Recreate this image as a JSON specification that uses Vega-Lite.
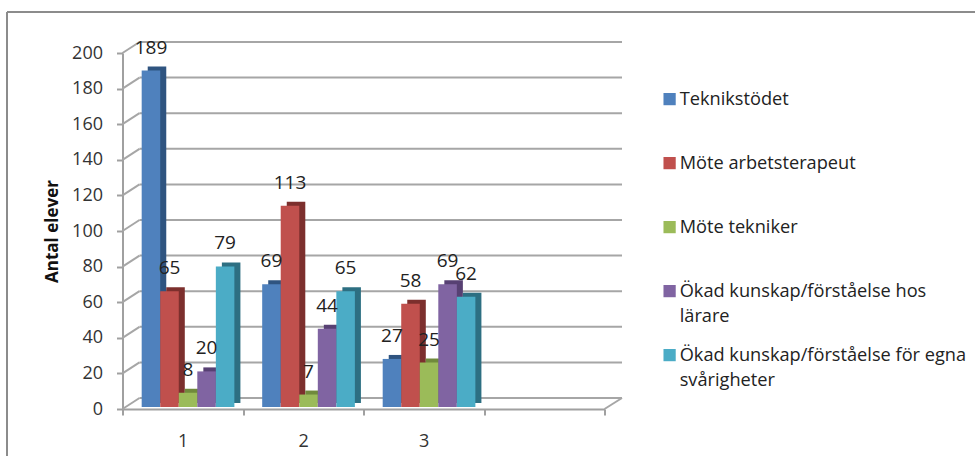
{
"$schema":"https://vega.github.io/schema/vega-lite/v6.json",
"width":482,"height":356,
"autosize":{"type":"none"},
"padding":{"left":122.5,"top":53,"right":370.5,"bottom":47},
"background":"white",
"config":{"view":{"stroke":null},"font":"Open Sans","axis":{"labelOverlap":false},
 "axisY":{"grid":false,"tickCount":11,"titleFont":"Open Sans","titleFontSize":17,"titleFontWeight":"bold","titleColor":"#111","titlePadding":10,"labelFont":"Open Sans","labelFontSize":18,"labelColor":"#333","labelPadding":14,"domainColor":"#a0a0a0","domainWidth":2,"tickColor":"#a0a0a0","tickWidth":2,"tickSize":6}},
"datasets":{
"rows":[
{"grupp":"1","serie":"Teknikstödet","antal":189},
{"grupp":"1","serie":"Möte arbetsterapeut","antal":65},
{"grupp":"1","serie":"Möte tekniker","antal":8},
{"grupp":"1","serie":"Ökad kunskap/förståelse hos lärare","antal":20},
{"grupp":"1","serie":"Ökad kunskap/förståelse för egna svårigheter","antal":79},
{"grupp":"2","serie":"Teknikstödet","antal":69},
{"grupp":"2","serie":"Möte arbetsterapeut","antal":113},
{"grupp":"2","serie":"Möte tekniker","antal":7},
{"grupp":"2","serie":"Ökad kunskap/förståelse hos lärare","antal":44},
{"grupp":"2","serie":"Ökad kunskap/förståelse för egna svårigheter","antal":65},
{"grupp":"3","serie":"Teknikstödet","antal":27},
{"grupp":"3","serie":"Möte arbetsterapeut","antal":58},
{"grupp":"3","serie":"Möte tekniker","antal":25},
{"grupp":"3","serie":"Ökad kunskap/förståelse hos lärare","antal":69},
{"grupp":"3","serie":"Ökad kunskap/förståelse för egna svårigheter","antal":62}
],
"grid":[{"v":0},{"v":20},{"v":40},{"v":60},{"v":80},{"v":100},{"v":120},{"v":140},{"v":160},{"v":180},{"v":200}]
},
"layer":[
{"data":{"name":"grid"},
 "mark":{"type":"rule","color":"#a6a6a6","strokeWidth":2,"yOffset":-11},
 "encoding":{"y":{"field":"v","type":"quantitative","scale":{"domain":[0,200]},
   "axis":{"values":[0,20,40,60,80,100,120,140,160,180,200],"labelOverlap":false,"title":"Antal elever"}},
  "x":{"value":17},"x2":{"value":499.5}}},
{"data":{"name":"grid"},
 "mark":{"type":"rule","color":"#a6a6a6","strokeWidth":2,"y2Offset":-11},
 "encoding":{"y":{"field":"v","type":"quantitative","axis":{"values":[0,20,40,60,80,100,120,140,160,180,200],"labelOverlap":false,"title":"Antal elever"}},"y2":{"field":"v"},"x":{"value":0},"x2":{"value":17}}},
{"data":{"values":[{"v":0}]},
 "mark":{"type":"rule","color":"#a6a6a6","strokeWidth":2,"y2Offset":-11},
 "encoding":{"y":{"field":"v","type":"quantitative","axis":{"values":[0,20,40,60,80,100,120,140,160,180,200],"labelOverlap":false,"title":"Antal elever"}},"y2":{"field":"v"},"x":{"value":482},"x2":{"value":499.5}}},
{"data":{"name":"rows"},
 "mark":{"type":"bar","yOffset":-6,"y2Offset":-6},
 "encoding":{
  "x":{"field":"grupp","type":"nominal","scale":{"domain":["1","2","3"," "],"padding":0},
    "axis":{"title":null,"labelAngle":0,"labelFont":"Open Sans","labelFontSize":18,"labelColor":"#333","labelPadding":17,"domainColor":"#a0a0a0","domainWidth":2,"tickColor":"#a0a0a0","tickWidth":2,"tickSize":6,"tickBand":"extent"}},
  "xOffset":{"field":"serie","type":"nominal","sort":["Teknikstödet","Möte arbetsterapeut","Möte tekniker","Ökad kunskap/förståelse hos lärare","Ökad kunskap/förståelse för egna svårigheter"],"scale":{"paddingOuter":0.75,"paddingInner":0,"align":0.907}},
  "y":{"field":"antal","type":"quantitative","axis":{"values":[0,20,40,60,80,100,120,140,160,180,200],"labelOverlap":false,"title":"Antal elever"}},
  "color":{"field":"serie","type":"nominal","legend":null,"sort":["Teknikstödet","Möte arbetsterapeut","Möte tekniker","Ökad kunskap/förståelse hos lärare","Ökad kunskap/förståelse för egna svårigheter"],"scale":{"range":["#2f5480","#7c2f2d","#708a3c","#574073","#2d6f82"]}}
 }},
{"data":{"name":"rows"},
 "mark":{"type":"bar","yOffset":-2,"y2Offset":-2},
 "encoding":{
  "x":{"field":"grupp","type":"nominal"},
  "xOffset":{"field":"serie","type":"nominal","sort":["Teknikstödet","Möte arbetsterapeut","Möte tekniker","Ökad kunskap/förståelse hos lärare","Ökad kunskap/förståelse för egna svårigheter"],"scale":{"paddingOuter":0.75,"paddingInner":0,"align":0.69}},
  "y":{"field":"antal","type":"quantitative","axis":{"values":[0,20,40,60,80,100,120,140,160,180,200],"labelOverlap":false,"title":"Antal elever"}},
  "color":{"field":"serie","type":"nominal","sort":["Teknikstödet","Möte arbetsterapeut","Möte tekniker","Ökad kunskap/förståelse hos lärare","Ökad kunskap/förståelse för egna svårigheter"],
   "scale":{"range":["#4f81bd","#c0504d","#9bbb59","#8064a2","#4bacc6"]},
   "legend":{"title":null,"orient":"none","legendX":538,"legendY":37,"symbolType":"square","symbolSize":150,"symbolStrokeWidth":0,"symbolOpacity":1,"labelFont":"Open Sans","labelFontSize":18.2,"labelColor":"#222","labelLimit":320,"labelOffset":1,"labelBaseline":"alphabetic","gridAlign":"all","rowPadding":20,
    "labelExpr":"datum.label == 'Ökad kunskap/förståelse hos lärare' ? ['Ökad kunskap/förståelse hos','lärare'] : datum.label == 'Ökad kunskap/förståelse för egna svårigheter' ? ['Ökad kunskap/förståelse för egna','svårigheter'] : datum.label",
    "encoding":{"labels":{"dy":{"value":6},"lineHeight":{"value":25}}}}}
 }},
{"data":{"name":"rows"},
 "mark":{"type":"text","font":"Open Sans","fontSize":19,"color":"#222","baseline":"middle","dy":-25},
 "encoding":{
  "x":{"field":"grupp","type":"nominal"},
  "xOffset":{"field":"serie","type":"nominal","sort":["Teknikstödet","Möte arbetsterapeut","Möte tekniker","Ökad kunskap/förståelse hos lärare","Ökad kunskap/förståelse för egna svårigheter"],"scale":{"type":"band","paddingOuter":0.75,"paddingInner":0,"align":0.69}},
  "y":{"field":"antal","type":"quantitative","axis":{"values":[0,20,40,60,80,100,120,140,160,180,200],"labelOverlap":false,"title":"Antal elever"}},
  "text":{"field":"antal","type":"quantitative"}
 }},
{"data":{"values":[{"ram":"topp"}]},
 "mark":{"type":"rule","color":"#8c8c8c","strokeWidth":2},
 "encoding":{"y":{"value":-41},"x":{"value":-115.5},"x2":{"value":852.5}}},
{"data":{"values":[{"ram":"vänster"}]},
 "mark":{"type":"rule","color":"#8c8c8c","strokeWidth":2},
 "encoding":{"x":{"value":-115.5},"y":{"value":-41},"y2":{"value":403}}}
],
"resolve":{"scale":{"color":"independent","xOffset":"independent"}}
}
